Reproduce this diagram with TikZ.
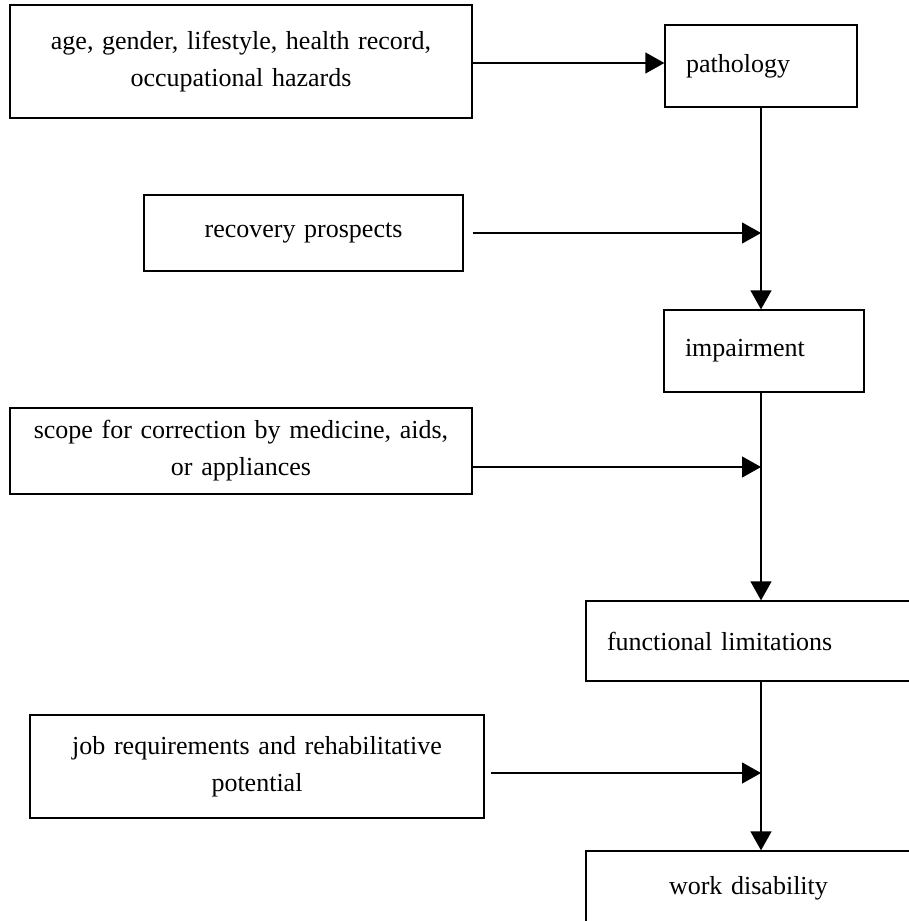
\documentclass[tikz,border=0pt]{standalone}
\usepackage{fontspec}
\setmainfont{Liberation Serif}
\usetikzlibrary{arrows.meta}

\begin{document}
\begin{tikzpicture}[x=1pt, y=-1pt,
    box/.style={draw, line width=1.3pt, inner sep=0pt, align=center,
      font=\fontsize{26}{37}\selectfont},
    stage/.style={box, inner xsep=21pt, align=left},
    flow/.style={line width=1.3pt, -{Triangle[length=19pt, width=21pt]}}]
    % Page frame
    \clip (0,0) rectangle (909,921);

    % Factors on the left
    \node[box, text width=462pt, minimum height=113pt] (risk) at (241,61.5) {age, gender, lifestyle, health record,\\ occupational hazards};
    \node[box, text width=319pt, minimum height=76pt] (recov) at (303.5,233) {recovery prospects};
    \node[box, text width=462pt, minimum height=86pt] (scope) at (241,451) {scope for correction by medicine, aids,\\ or appliances};
    \node[box, text width=454pt, minimum height=103pt] (job) at (257,766.5) {job requirements and rehabilitative\\ potential};

    % Stages on the right
    \node[stage, text width=150pt, minimum height=82pt] (patho) at (761,66) {pathology};
    \node[stage, text width=158pt, minimum height=82pt] (impair) at (764,351) {impairment};
    \node[stage, text width=283pt, minimum height=80pt] (func) at (748.5,641) {functional limitations};
    \node[box, text width=325pt, minimum height=74pt] (work) at (748.5,888) {work disability};

    % Main line
    \draw[flow] (patho.south) -- (patho.south |- impair.north);
    \draw[flow] (patho.south |- impair.south) -- (patho.south |- func.north);
    \draw[flow] (patho.south |- func.south) -- (patho.south |- work.north);

    % Side influences
    \draw[flow] ([yshift=-1.5pt]risk.east) -- ([yshift=-1.5pt]risk.east -| patho.west);
    \draw[flow] ([xshift=9pt]recov.east) -- (recov.east -| patho.south);
    \draw[flow] ([yshift=-16pt]scope.east) -- ([yshift=-16pt]scope.east -| patho.south);
    \draw[flow] ([xshift=6pt,yshift=-6.5pt]job.east) -- ([yshift=-6.5pt]job.east -| patho.south);
\end{tikzpicture}
\end{document}
